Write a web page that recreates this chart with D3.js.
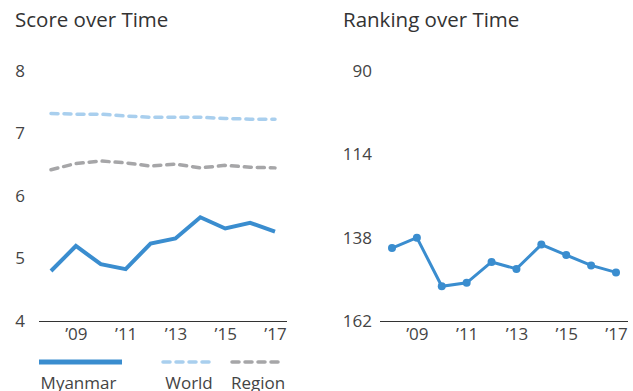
<!DOCTYPE html>
<html>
<head>
<meta charset="utf-8">
<script src="https://cdn.jsdelivr.net/npm/d3@7"></script>
<style>
  html, body { margin: 0; padding: 0; background: #fff; }
  svg { display: block; font-family: "Open Sans", "Lato", sans-serif; }
</style>
</head>
<body>
<svg id="chart" width="633" height="391"></svg>
<script>
// ---- data ----
const years = [2008, 2009, 2010, 2011, 2012, 2013, 2014, 2015, 2016, 2017];
const myanmarScore = [4.80, 5.20, 4.91, 4.83, 5.24, 5.32, 5.66, 5.48, 5.57, 5.43];
const worldScore   = [7.32, 7.31, 7.31, 7.28, 7.26, 7.26, 7.26, 7.24, 7.23, 7.23];
const regionScore  = [6.42, 6.52, 6.56, 6.53, 6.48, 6.51, 6.45, 6.49, 6.46, 6.45];
const myanmarRank  = [141, 138, 152, 151, 145, 147, 140, 143, 146, 148];
const scoreTicks = [4, 5, 6, 7, 8];
const rankTicks = [90, 114, 138, 162];
const yearTicks = [2009, 2011, 2013, 2015, 2017];
const legendLabels = ["Myanmar", "World", "Region"];

// ---- style ----
const cMyanmar = "#3a8dcf";
const cWorld = "#a9cfee";
const cRegion = "#a6a6a8";
const cText = "#444";

const svg = d3.select("#chart");
const fmtYear = d => "\u2019" + String(d).slice(2);

function panel(opts) {
  const g = svg.append("g");
  const x = d3.scaleLinear().domain([years[0], years[years.length - 1]]).range(opts.xr);
  const y = d3.scaleLinear().domain(opts.domain).range([321, 71]);

  g.append("text").attr("x", opts.titleX).attr("y", 27)
    .attr("font-size", 20.5).attr("fill", "#333").text(opts.title);

  // y labels
  const ya = d3.axisLeft(y).tickValues(opts.ticks).tickFormat(d3.format("d")).tickSize(0).tickPadding(0);
  const yg = g.append("g").attr("transform", `translate(${opts.yLabelX},0)`).call(ya);
  yg.select(".domain").remove();
  yg.selectAll("text").attr("font-size", 17).attr("fill", cText)
    .attr("font-family", "Open Sans, Lato, sans-serif");

  // baseline
  const r = x.range();
  const by = Math.round(y(opts.domain[0])) + 0.5;
  g.append("line").attr("x1", r[0] - 12).attr("x2", r[1] + 12)
    .attr("y1", by).attr("y2", by)
    .attr("stroke", "#333").attr("stroke-width", 1);

  // x labels
  const xa = d3.axisBottom(x).tickValues(yearTicks).tickFormat(fmtYear).tickSize(0).tickPadding(0);
  const xg = g.append("g").attr("transform", `translate(0,328)`).call(xa);
  xg.select(".domain").remove();
  xg.selectAll("text").attr("font-size", 17).attr("fill", cText)
    .attr("font-family", "Open Sans, Lato, sans-serif");
  return { g, x, y };
}

// Left: score
const L = panel({ title: "Score over Time", titleX: 15, xr: [51, 275], domain: [4, 8],
  ticks: scoreTicks, yLabelX: 25 });
const lineL = d3.line().x((d, i) => L.x(years[i])).y(d => L.y(d));
L.g.append("path").datum(worldScore).attr("d", lineL).attr("fill", "none")
  .attr("stroke", cWorld).attr("stroke-width", 3.5).attr("stroke-dasharray", "7,6")
  .attr("stroke-linecap", "round");
L.g.append("path").datum(regionScore).attr("d", lineL).attr("fill", "none")
  .attr("stroke", cRegion).attr("stroke-width", 3.5).attr("stroke-dasharray", "7,6")
  .attr("stroke-linecap", "round");
L.g.append("path").datum(myanmarScore).attr("d", lineL).attr("fill", "none")
  .attr("stroke", cMyanmar).attr("stroke-width", 4).attr("stroke-linejoin", "miter");

// Right: ranking (inverted: best rank on top)
const R = panel({ title: "Ranking over Time", titleX: 343, xr: [392, 616], domain: [162, 90],
  ticks: rankTicks, yLabelX: 372 });
const lineR = d3.line().x((d, i) => R.x(years[i])).y(d => R.y(d));
R.g.append("path").datum(myanmarRank).attr("d", lineR).attr("fill", "none")
  .attr("stroke", cMyanmar).attr("stroke-width", 3);
R.g.selectAll("circle").data(myanmarRank).join("circle")
  .attr("cx", (d, i) => R.x(years[i])).attr("cy", d => R.y(d)).attr("r", 4)
  .attr("fill", cMyanmar);

// Legend
const lg = svg.append("g");
const legendItems = [
  { x1: 39, x2: 122, color: cMyanmar, dash: null, w: 5 },
  { x1: 163, x2: 211, color: cWorld, dash: "7,6", w: 3.5 },
  { x1: 232, x2: 280, color: cRegion, dash: "7,6", w: 3.5 }
];
legendItems.forEach((it, i) => {
  lg.append("line").attr("x1", it.x1).attr("x2", it.x2).attr("y1", 362).attr("y2", 362)
    .attr("stroke", it.color).attr("stroke-width", it.w)
    .attr("stroke-dasharray", it.dash).attr("stroke-linecap", it.dash ? "round" : "butt");
  lg.append("text").attr("x", (it.x1 + it.x2) / 2 + (i === 0 ? -2 : 2)).attr("y", 389)
    .attr("text-anchor", "middle").attr("font-size", 17).attr("fill", cText)
    .text(legendLabels[i]);
});
</script>
</body>
</html>
